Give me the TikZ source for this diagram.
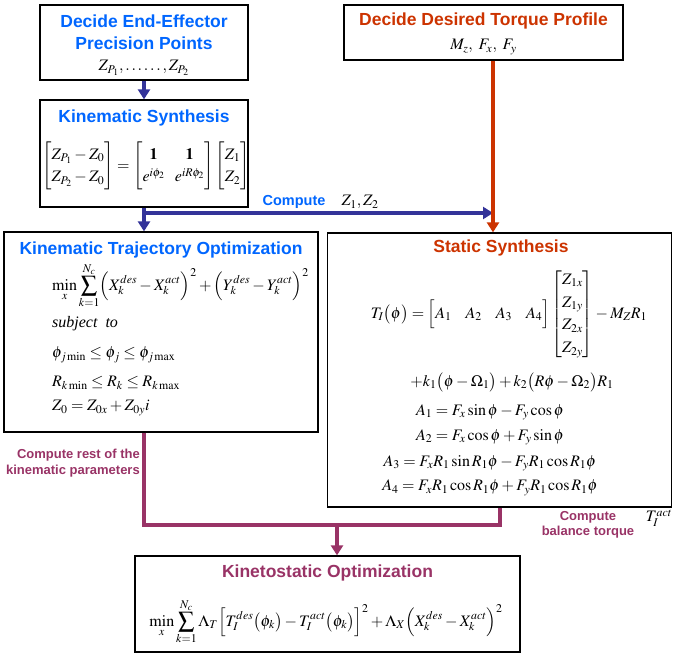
\documentclass[tikz,border=0pt]{standalone}
\usepackage{amsmath}
\usepackage{mathptmx}
\usepackage{fontspec}
\setmainfont{Liberation Serif}
\newfontfamily\titlefont{Liberation Sans}
\usetikzlibrary{arrows.meta, positioning, calc}
\definecolor{titleblue}{RGB}{0,102,255}
\definecolor{flowblue}{RGB}{51,51,153}
\definecolor{flowred}{RGB}{204,51,0}
\definecolor{flowpurple}{RGB}{153,51,102}
\tikzset{
	stagebox/.style={draw, line width=1.3pt, inner sep=0pt}
}
\tikzset{
	stagetitle/.style={font=\titlefont\bfseries\fontsize{17.5}{22}\selectfont, align=center, inner sep=0pt}
}
\tikzset{
	mathtext/.style={font=\fontsize{16}{19}\selectfont, inner sep=0pt}
}
\tikzset{
	flowlabel/.style={font=\titlefont\bfseries\fontsize{13}{15.5}\selectfont, align=center, inner sep=0pt}
}
\tikzset{
	flowline/.style={line width=#1},
	flowtip/.style={-{Triangle[width=12pt,length=10pt]}}
}

\begin{document}
\begin{tikzpicture}[x=1pt, y=-1pt]
  \useasboundingbox (0,0) rectangle (673,656);
  % boxes
  \node[stagebox, minimum width=208pt, minimum height=75pt] (precision) at (144,42.5) {};
  \node[stagebox, minimum width=208pt, minimum height=107pt] (kinsyn) at (144,153.5) {};
  \node[stagebox, minimum width=279pt, minimum height=55pt] (torque) at (483.5,32.5) {};
  \node[stagebox, minimum width=314pt, minimum height=200pt] (trajopt) at (161,332) {};
  \node[stagebox, minimum width=344pt, minimum height=274pt] (static) at (499.5,370) {};
  \node[stagebox, minimum width=385pt, minimum height=96pt] (kinetostatic) at (327.5,604) {};
  % titles
  \node[stagetitle, text=titleblue] (precisiontitle) at (144,32) {Decide End-Effector\\Precision Points};
  \node[stagetitle, text=titleblue] (kinsyntitle) at (144,118) {Kinematic Synthesis};
  \node[stagetitle, text=flowred] (torquetitle) at (483.5,21) {Decide Desired Torque Profile};
  \node[stagetitle, text=titleblue] (trajopttitle) at (161,250) {Kinematic Trajectory Optimization};
  \node[stagetitle, text=flowred] (statictitle) at (501,248) {Static Synthesis};
  \node[stagetitle, text=flowpurple] (kinetostatictitle) at (327.5,573) {Kinetostatic Optimization};
  % equations
  \node[mathtext] (points) at (144,68) {$Z_{P_1},\ldots\ldots,Z_{P_2}$};
  \node[mathtext] (loads) at (483.5,47) {$M_z,\ F_x,\ F_y$};
  \node[mathtext] (kinsyneq) at (146,166) {\renewcommand\arraystretch{1.2}$\begin{bmatrix} Z_{P_1}-Z_0\\ Z_{P_2}-Z_0\end{bmatrix}=\begin{bmatrix}\mathbf{1}&\mathbf{1}\\ e^{i\phi_2}&e^{iR\phi_2}\end{bmatrix}\begin{bmatrix}Z_1\\ Z_2\end{bmatrix}$};
  \node[mathtext, anchor=west] (trajobj) at (52,286) {$\displaystyle\min_{x}\sum_{k=1}^{N_c}\Bigl(X_k^{des}-X_k^{act}\Bigr)^2+\Bigl(Y_k^{des}-Y_k^{act}\Bigr)^2$};
  \node[mathtext, anchor=west] (subject) at (52,324) {\textit{subject\ \ to}};
  \node[mathtext, anchor=west] (phibound) at (52,355) {$\phi_{j\min}\le\phi_j\le\phi_{j\max}$};
  \node[mathtext, anchor=west] (rbound) at (52,383) {$R_{k\min}\le R_k\le R_{k\max}$};
  \node[mathtext, anchor=west] (zzero) at (52,408) {$Z_0=Z_{0x}+Z_{0y}i$};
  \node[mathtext] (torqueeq) at (509,314) {\renewcommand\arraystretch{1.2}$T_I\bigl(\phi\bigr)=\begin{bmatrix}A_1&\ A_2&\ A_3&\ A_4\end{bmatrix}\begin{bmatrix}Z_{1x}\\ Z_{1y}\\ Z_{2x}\\ Z_{2y}\end{bmatrix}-M_ZR_1$};
  \node[mathtext] (springs) at (512,382) {$+k_1\bigl(\phi-\Omega_1\bigr)+k_2\bigl(R\phi-\Omega_2\bigr)R_1$};
  \foreach \y/\n/\eq in {412/1/{A_1=F_x\sin\phi-F_y\cos\phi}, 437/2/{A_2=F_x\cos\phi+F_y\sin\phi}, 463/3/{A_3=F_xR_1\sin R_1\phi-F_yR_1\cos R_1\phi}, 488/4/{A_4=F_xR_1\cos R_1\phi+F_yR_1\cos R_1\phi}} {
    \node[mathtext] (coef\n) at (490,\y) {$\eq$};
  }
  \node[mathtext] (kinetoobj) at (326,622) {$\displaystyle\min_{x}\sum_{k=1}^{N_c}\Lambda_T\Bigl[T_I^{des}\bigl(\phi_k\bigr)-T_I^{act}\bigl(\phi_k\bigr)\Bigr]^2+\Lambda_X\Bigl(X_k^{des}-X_k^{act}\Bigr)^2$};
  % connectors
  \coordinate (split) at (144,213);
  \coordinate (join) at (493,213);
  \coordinate (merge) at (337,525);
  \draw[flowblue, flowline=4pt, flowtip] (precision.south) -- (kinsyn.north);
  \draw[flowblue, flowline=4pt, flowtip] (kinsyn.south) -- (split |- trajopt.north);
  \draw[flowblue, flowline=4pt, flowtip] (split) -- (join);
  \draw[flowred, flowline=3.5pt, flowtip] (join |- torque.south) -- (join |- static.north);
  \draw[flowpurple, flowline=4pt] (split |- trajopt.south) |- (merge) -| (static.south);
  \draw[flowpurple, flowline=4pt, flowtip] (merge) -- (merge |- kinetostatic.north);
  % labels
  \node[flowlabel, text=titleblue, font=\titlefont\bfseries\fontsize{14.5}{17}\selectfont] (computez) at (294,202) {Compute};
  \node[mathtext] (zpair) at (360,202) {$Z_1, Z_2$};
  \node[flowlabel, text=flowpurple, align=right, anchor=east] (restlabel) at (140,463) {Compute rest of the\\kinematic parameters};
  \node[flowlabel, text=flowpurple] (balancelabel) at (588,525) {Compute\\balance torque};
  \node[mathtext] (tact) at (659,518) {$T_I^{act}$};
\end{tikzpicture}
\end{document}
